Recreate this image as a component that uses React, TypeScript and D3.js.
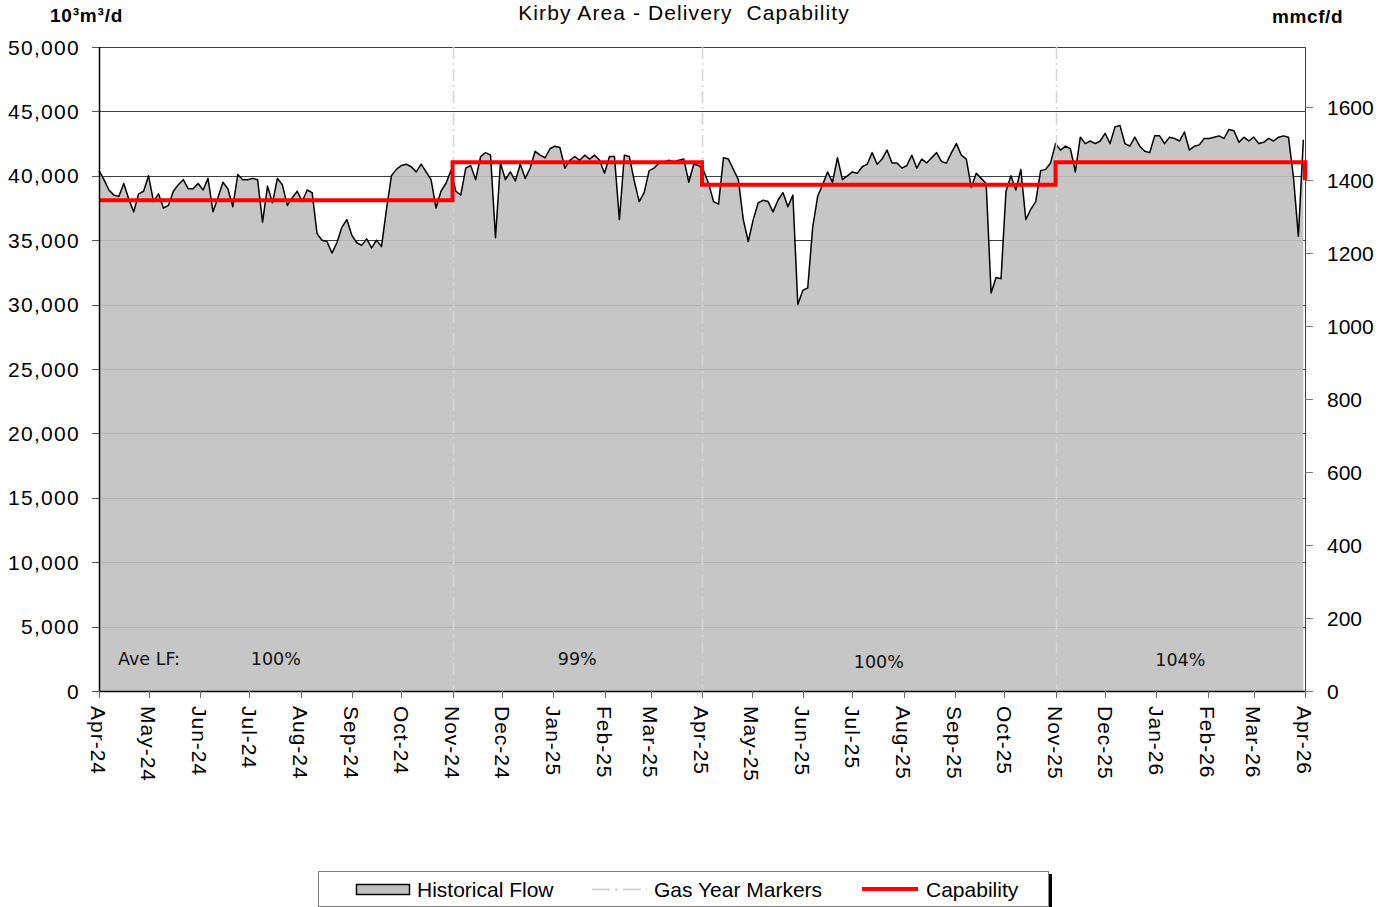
import React from "react";
import * as d3 from "d3";

// ---------- DATA ----------
const flowStart = "2024-04-01";
const flowStepDays = 3;
// Historical flow, 10^3 m3/d, one reading every 3 days from Apr 1, 2024
const flowValues: number[] = [
  40400, 39700, 38900, 38500, 38400, 39400, 38200, 37200, 38600, 38800,
  40000, 38000, 38600, 37500, 37700, 38800, 39300, 39700, 39000, 39000,
  39400, 38900, 39800, 37200, 38300, 39500, 39000, 37600, 40100, 39700,
  39700, 39800, 39700, 36400, 39200, 37900, 39800, 39300, 37700, 38300,
  38800, 38000, 38900, 38700, 35500, 35000, 34900, 34000, 34800, 36000,
  36600, 35400, 34800, 34600, 35100, 34400, 35000, 34500, 37400, 40000,
  40500, 40800, 40900, 40700, 40300, 40900, 40300, 39700, 37500, 38800,
  39400, 40400, 38800, 38500, 40600, 40800, 39700, 41500, 41800, 41600,
  35200, 41000, 39700, 40300, 39600, 40900, 39800, 40600, 41900, 41600,
  41400, 42100, 42300, 42200, 40600, 41200, 41500, 41200, 41600, 41300,
  41600, 41200, 40200, 41500, 41500, 36600, 41600, 41500, 39600, 38000,
  38700, 40400, 40600, 41000, 41100, 41200, 41100, 41200, 41300, 39500,
  40900, 40800, 40400, 39400, 38000, 37800, 41400, 41300, 40500, 39700,
  36600, 34900, 36600, 37900, 38100, 38000, 37200, 38100, 38700, 37600,
  38500, 30000, 31100, 31300, 36000, 38400, 39300, 40300, 39500, 41400,
  39700, 40000, 40300, 40200, 40700, 40900, 41800, 40900, 41300, 42000,
  41000, 41000, 40600, 40800, 41600, 40600, 41300, 41000, 41400, 41800,
  41100, 41000, 41800, 42500, 41600, 41300, 39100, 40200, 39800, 39400,
  30900, 32100, 32000, 38800, 40000, 38900, 40500, 36600, 37400, 38000,
  40400, 40500, 41000, 42500, 42000, 42300, 42100, 40300, 43000, 42500,
  42700, 42500, 42700, 43300, 42500, 43800, 43900, 42500, 42300, 43000,
  42300, 41900, 41800, 43100, 43100, 42500, 43000, 42900, 42700, 43400,
  42000, 42300, 42400, 42900, 42900, 43000, 43100, 42900, 43600, 43500,
  42600, 43000, 42700, 43000, 42500, 42600, 42900, 42700, 43000, 43100,
  43000, 39900, 35300, 42800,
];

// Capability steps (10^3 m3/d), each value holds from its date onward
const capDates = ["2024-04-01", "2024-11-01", "2025-04-01", "2025-11-01", "2026-04-01"];
const capValues = [38100, 41050, 39300, 41050, 39650];

const gasYearMarkers = ["2024-11-01", "2025-04-01", "2025-11-01"];
const periodBounds = ["2024-04-01", "2024-11-01", "2025-04-01", "2025-11-01", "2026-04-01"];
const lfLabels = ["100%", "99%", "100%", "104%"];

const leftTicks = [0, 5000, 10000, 15000, 20000, 25000, 30000, 35000, 40000, 45000, 50000];
const rightTicks = [0, 200, 400, 600, 800, 1000, 1200, 1400, 1600];
const M3_PER_MMCF = 28.3168; // 10^3 m3 per mmcf

const title = "Kirby Area - Delivery  Capability";
const leftUnit = "10³m³/d";
const rightUnit = "mmcf/d";
const legendLabels = ["Historical Flow", "Gas Year Markers", "Capability"];

// ---------- LAYOUT ----------
const W = 1380;
const H = 907;
const L = 99;
const R = 1305;
const T = 47;
const B = 691;
const FONT = "'Liberation Sans', Arial, Helvetica, sans-serif";

const parse = d3.utcParse("%Y-%m-%d");

export default function App() {
  const x = d3
    .scaleUtc()
    .domain([parse("2024-04-01")!, parse("2026-04-01")!])
    .range([L, R]);
  const y = d3.scaleLinear().domain([0, 50000]).range([B, T]);
  const y2 = d3.scaleLinear().domain([0, 50000 / M3_PER_MMCF]).range([B, T]);

  const start = parse(flowStart)!;
  const flow = flowValues.map((v, i) => ({
    date: d3.utcDay.offset(start, i * flowStepDays),
    value: v,
  }));
  const cap = capDates.map((d, i) => ({ date: parse(d)!, value: capValues[i] }));

  const area = d3
    .area<{ date: Date; value: number }>()
    .x((d) => x(d.date))
    .y0(y(0))
    .y1((d) => y(d.value));
  const line = d3
    .line<{ date: Date; value: number }>()
    .x((d) => x(d.date))
    .y((d) => y(d.value));
  const capLine = d3
    .line<{ date: Date; value: number }>()
    .x((d) => x(d.date))
    .y((d) => y(d.value))
    .curve(d3.curveStepAfter);

  const months = d3.utcMonth.range(parse("2024-04-01")!, d3.utcDay.offset(parse("2026-04-01")!, 1));
  const fmt = d3.utcFormat("%b-%y");
  const crisp = (v: number) => Math.round(v) + 0.5;

  const bounds = periodBounds.map((d) => x(parse(d)!));
  const lfDy = [0, 0, 3, 1];

  return (
    <svg
      width={W}
      height={H}
      style={{ position: "absolute", left: 0, top: 0, background: "#fff" }}
      fontFamily={FONT}
    >
      <rect x={0} y={0} width={W} height={H} fill="#fff" />

      {/* gridlines */}
      {leftTicks
        .filter((t) => t > 0)
        .map((t) => (
          <line key={"g" + t} x1={L} x2={R} y1={crisp(y(t))} y2={crisp(y(t))} stroke="#404040" strokeWidth={1} />
        ))}

      {/* historical flow */}
      <path d={area(flow) || ""} fill="#c0c0c0" fillOpacity={0.9} />
      <path d={line(flow) || ""} fill="none" stroke="#000" strokeWidth={1.5} strokeLinejoin="round" />

      {/* gas year markers */}
      {gasYearMarkers.map((d) => (
        <line
          key={d}
          x1={crisp(x(parse(d)!))}
          x2={crisp(x(parse(d)!))}
          y1={T}
          y2={B}
          stroke="#d4d4d4"
          strokeWidth={1.5}
          strokeDasharray="12,4,2,4"
        />
      ))}

      {/* capability */}
      <path d={capLine(cap) || ""} fill="none" stroke="#ff0000" strokeWidth={4} strokeLinejoin="miter" />

      {/* axes */}
      <line x1={R + 0.5} x2={R + 0.5} y1={T} y2={B} stroke="#404040" strokeWidth={1} />
      <line x1={L + 0.5} x2={L + 0.5} y1={T} y2={B + 1} stroke="#000" strokeWidth={1.5} />
      <line x1={L} x2={R + 1} y1={B + 0.5} y2={B + 0.5} stroke="#000" strokeWidth={1.5} />

      {/* left ticks */}
      {leftTicks.map((t) => (
        <g key={"l" + t}>
          <line x1={92} x2={L} y1={crisp(y(t))} y2={crisp(y(t))} stroke="#555" strokeWidth={1} />
          <text x={80} y={y(t) + 7.5} textAnchor="end" fontSize={21} letterSpacing={1.3} fill="#000">
            {d3.format(",")(t)}
          </text>
        </g>
      ))}

      {/* right ticks */}
      {rightTicks.map((t) => (
        <g key={"r" + t}>
          <line x1={R} x2={R + 8} y1={crisp(y2(t))} y2={crisp(y2(t))} stroke="#777" strokeWidth={1} />
          <text x={1327} y={y2(t) + 7.5} textAnchor="start" fontSize={21} fill="#000">
            {t}
          </text>
        </g>
      ))}

      {/* bottom ticks & labels */}
      {months.map((m) => {
        const mx = x(m);
        return (
          <g key={m.toISOString()}>
            <line x1={crisp(mx)} x2={crisp(mx)} y1={B} y2={B + 7} stroke="#666" strokeWidth={1} />
            <text
              transform={`translate(${mx},706) rotate(90)`}
              dy="0.36em"
              fontSize={21}
              letterSpacing={1}
              fill="#000"
            >
              {fmt(m)}
            </text>
          </g>
        );
      })}

      {/* titles */}
      <text
        x={684}
        y={20}
        textAnchor="middle"
        fontSize={21}
        letterSpacing={1.1}
        fill="#000"
        style={{ whiteSpace: "pre" }}
      >
        {title}
      </text>
      <text x={50} y={22} fontSize={19} fontWeight="bold" letterSpacing={0.8} fill="#000">
        {leftUnit}
      </text>
      <text x={1272} y={23} fontSize={19} fontWeight="bold" letterSpacing={0.6} fill="#000">
        {rightUnit}
      </text>

      {/* average load factor labels */}
      <text x={118} y={664.5} fontSize={17.5} fontFamily="'DejaVu Sans', Verdana, sans-serif" fill="#111">
        Ave LF:
      </text>
      {lfLabels.map((s, i) => (
        <text
          key={"lf" + i}
          x={(bounds[i] + bounds[i + 1]) / 2}
          y={664.5 + lfDy[i]}
          textAnchor="middle"
          fontSize={17.5}
          fontFamily="'DejaVu Sans', Verdana, sans-serif"
          fill="#111"
        >
          {s}
        </text>
      ))}

      {/* legend */}
      <rect x={1048} y={874} width={4} height={33} fill="#000" />
      <rect x={318.5} y={871.5} width={730} height={35} fill="#fff" stroke="#808080" strokeWidth={1} />
      <rect x={356.5} y={884.5} width={53} height={10} fill="#c0c0c0" stroke="#000" strokeWidth={1.5} />
      <text x={417} y={897} fontSize={21} fill="#000">
        {legendLabels[0]}
      </text>
      <line x1={592} x2={647} y1={889.5} y2={889.5} stroke="#d4d4d4" strokeWidth={2} strokeDasharray="18,5,3,5" />
      <text x={654} y={897} fontSize={21} fill="#000">
        {legendLabels[1]}
      </text>
      <line x1={862} x2={918} y1={889} y2={889} stroke="#ff0000" strokeWidth={4} />
      <text x={926} y={897} fontSize={21} fill="#000">
        {legendLabels[2]}
      </text>
    </svg>
  );
}
